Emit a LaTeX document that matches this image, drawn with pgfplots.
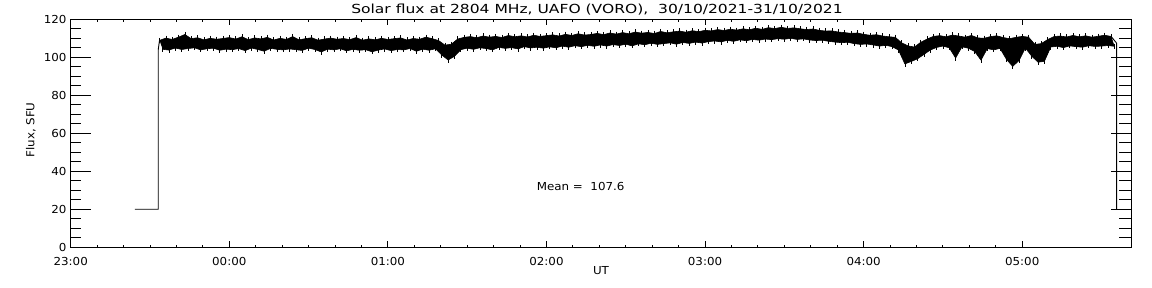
\documentclass[border=0pt]{standalone}
\usepackage{pgfplots}
\pgfplotsset{compat=1.18}
\usepackage{fontspec}
\setmainfont{DejaVu Sans}[FakeStretch=1.08]

\begin{document}
\fontsize{11}{13}\selectfont
\begin{tikzpicture}[x=1pt,y=1pt]
\useasboundingbox (0pt,0pt) rectangle (1152pt,288pt);
\begin{axis}[
    at={(70.7pt,40.7pt)}, anchor=south west,
    scale only axis, width=1060.3pt, height=228pt,
    xmin=0, xmax=6.686, ymin=0, ymax=120,
    xtick={0,1,2,3,4,5,6},
    xticklabels={23:00,00:00,01:00,02:00,03:00,04:00,05:00},
    minor x tick num=5,
    ytick={0,20,40,60,80,100,120},
    tick align=inside, tick pos=both,
    major tick length=6pt, minor tick length=2.5pt,
    axis line style={line width=0.9pt},
    tick style={black, line width=0.9pt},
    ytick style={draw=none},
    xticklabel style={anchor=base, yshift=-18pt},
    yticklabel style={anchor=east, inner sep=0pt, xshift=-4pt},
    /pgf/number format/assume math mode=true,
]
% flux band (hours after 23:00 UT, SFU): upper edge of the noise left to right, then lower edge back
\addplot[fill=black, draw=black, line width=0.6pt, line join=round,
    mark=|, mark size=2.6pt, mark options={line width=0.7pt}] coordinates {
(0.56,108.9) (0.60,110.1) (0.64,109.4) (0.68,110.6) (0.72,112.0) (0.76,109.8) (0.80,110.3) (0.84,109.2) (0.88,110.0) (0.92,109.5)
(0.96,109.9) (1.00,110.4) (1.04,109.6) (1.08,110.8) (1.12,109.3) (1.16,110.2) (1.20,109.7) (1.24,110.5) (1.28,109.1) (1.32,110.0)
(1.36,109.4) (1.40,110.9) (1.44,109.2) (1.48,109.8) (1.52,110.3) (1.56,109.0) (1.60,109.6) (1.64,110.1) (1.68,109.5) (1.72,109.9)
(1.76,109.3) (1.80,110.4) (1.84,109.0) (1.88,109.7) (1.92,109.2) (1.96,110.0) (2.00,109.4) (2.04,109.8) (2.08,110.2) (2.12,109.1)
(2.16,109.9) (2.20,109.5) (2.24,110.6) (2.28,109.8) (2.32,108.8) (2.36,106.4) (2.40,106.9) (2.44,109.6) (2.48,110.5) (2.52,110.9)
(2.56,110.3) (2.60,111.2) (2.64,110.6) (2.68,111.0) (2.72,110.4) (2.76,111.5) (2.80,110.8) (2.84,111.3) (2.88,110.7) (2.92,111.6)
(2.96,111.0) (3.00,111.4) (3.04,111.8) (3.08,111.2) (3.12,112.1) (3.16,111.5) (3.20,112.4) (3.24,111.7) (3.28,112.0) (3.32,112.6)
(3.36,111.9) (3.40,112.8) (3.44,112.2) (3.48,113.0) (3.52,112.4) (3.56,113.3) (3.60,112.7) (3.64,113.1) (3.68,112.5) (3.72,113.6)
(3.76,112.9) (3.80,113.4) (3.84,113.8) (3.88,113.2) (3.92,114.0) (3.96,113.5) (4.00,114.2) (4.04,113.9) (4.08,114.6) (4.12,114.1)
(4.16,114.8) (4.20,114.3) (4.24,115.0) (4.28,114.5) (4.32,115.3) (4.36,114.7) (4.40,115.6) (4.44,115.1) (4.48,115.8) (4.52,115.2)
(4.56,115.5) (4.60,115.0) (4.64,114.6) (4.68,114.9) (4.72,114.2) (4.76,113.8) (4.80,113.9) (4.84,113.3) (4.88,113.0) (4.92,112.6)
(4.96,112.8) (5.00,112.1) (5.04,111.6) (5.08,111.9) (5.12,111.2) (5.16,110.8) (5.20,110.5) (5.24,107.6) (5.28,106.0) (5.32,105.4)
(5.36,107.9) (5.40,109.6) (5.44,111.0) (5.48,111.4) (5.52,110.8) (5.56,111.7) (5.60,111.2) (5.64,110.6) (5.68,111.5) (5.72,110.2)
(5.76,110.0) (5.80,110.9) (5.84,111.3) (5.88,110.4) (5.92,109.8) (5.96,110.5) (6.00,111.0) (6.04,110.6) (6.08,106.8) (6.12,107.2)
(6.16,109.3) (6.20,110.9) (6.24,111.2) (6.28,110.7) (6.32,111.5) (6.36,110.8) (6.40,111.3) (6.44,110.6) (6.48,111.1) (6.52,111.6)
(6.56,111.0)
(6.58,105.8) (6.54,106.2) (6.50,105.9) (6.46,105.7) (6.42,106.1) (6.38,105.3) (6.34,105.6) (6.30,106.0) (6.26,105.1) (6.22,105.8)
(6.18,105.4) (6.14,97.9) (6.10,97.4) (6.06,100.6) (6.02,104.9) (5.98,98.3) (5.94,95.2) (5.90,99.0) (5.86,104.7) (5.82,103.9)
(5.78,104.6) (5.74,98.5) (5.70,103.1) (5.66,104.8) (5.62,105.5) (5.58,99.6) (5.54,105.0) (5.50,105.9) (5.46,105.2) (5.42,103.8)
(5.38,101.5) (5.34,99.2) (5.30,97.8) (5.26,96.5) (5.22,103.8) (5.18,105.6) (5.14,106.3) (5.10,105.9) (5.06,106.5) (5.02,107.0)
(4.98,106.8) (4.94,107.2) (4.90,107.9) (4.86,107.7) (4.82,108.0) (4.78,108.4) (4.74,109.0) (4.70,108.8) (4.66,109.1) (4.62,109.7)
(4.58,109.4) (4.54,110.0) (4.50,109.5) (4.46,109.8) (4.42,109.3) (4.38,109.6) (4.34,109.0) (4.30,109.4) (4.26,108.7) (4.22,109.2)
(4.18,108.4) (4.14,108.9) (4.10,108.1) (4.06,108.6) (4.02,108.2) (3.98,107.5) (3.94,108.0) (3.90,107.3) (3.86,107.8) (3.82,106.9)
(3.78,107.6) (3.74,107.2) (3.70,106.8) (3.66,107.4) (3.62,106.6) (3.58,107.1) (3.54,106.0) (3.50,106.9) (3.46,106.2) (3.42,106.7)
(3.38,105.9) (3.34,106.5) (3.30,105.8) (3.26,106.3) (3.22,105.6) (3.18,106.1) (3.14,105.3) (3.10,105.9) (3.06,105.0) (3.02,105.5)
(2.98,104.8) (2.94,105.3) (2.90,104.9) (2.86,105.6) (2.82,104.4) (2.78,105.1) (2.74,104.7) (2.70,105.2) (2.66,103.9) (2.62,104.6)
(2.58,105.0) (2.54,104.2) (2.50,104.8) (2.46,104.0) (2.42,100.5) (2.38,98.6) (2.34,101.2) (2.30,104.5) (2.26,103.7) (2.22,104.3)
(2.18,103.2) (2.14,104.6) (2.10,103.9) (2.06,104.1) (2.02,103.5) (1.98,104.4) (1.94,103.8) (1.90,102.9) (1.86,104.0) (1.82,103.7)
(1.78,104.2) (1.74,103.4) (1.70,104.5) (1.66,103.9) (1.62,104.3) (1.58,102.8) (1.54,104.1) (1.50,104.8) (1.46,103.6) (1.42,104.0)
(1.38,104.4) (1.34,103.9) (1.30,104.2) (1.26,104.7) (1.22,103.2) (1.18,104.1) (1.14,104.9) (1.10,103.5) (1.06,104.6) (1.02,104.0)
(0.98,104.3) (0.94,103.7) (0.90,104.8) (0.86,104.5) (0.82,103.9) (0.78,105.0) (0.74,104.6) (0.70,104.1) (0.66,104.9) (0.62,103.8)
(0.58,104.2)
};
% receiver off before start and after end
\addplot[black, line width=0.9pt] coordinates {(0.405,20) (0.552,20) (0.552,104) (0.56,108.9)};
\addplot[black, line width=0.9pt] coordinates {(6.56,111.0) (6.595,107.5) (6.595,20)};
\node[anchor=base west, inner sep=0pt] at (axis cs:2.938,29.8) {Mean =\ \ 107.6};
\end{axis}
% y ticks, long as in the IDL original (1.9pt per SFU)
\foreach \v in {20,40,...,100} {
  \draw[line width=0.9pt] (70.7pt,40.7pt+1.9pt*\v) -- ++(20pt,0pt);
  \draw[line width=0.9pt] (1131pt,40.7pt+1.9pt*\v) -- ++(-20pt,0pt);
}
\foreach \v in {5,10,15,25,30,35,45,50,55,65,70,75,85,90,95,105,110,115} {
  \draw[line width=0.9pt] (70.7pt,40.7pt+1.9pt*\v) -- ++(10pt,0pt);
  \draw[line width=0.9pt] (1131pt,40.7pt+1.9pt*\v) -- ++(-12pt,0pt);
}
\node[anchor=base, inner sep=0pt] at (597pt,274pt)
    {\fontsize{12.5}{14}\selectfont\scalebox{1.15}[1]{Solar flux at 2804 MHz, UAFO (VORO),\ \ 30/10/2021-31/10/2021}};
\node[rotate=90, anchor=base, inner sep=0pt] at (34.3pt,158pt) {Flux, SFU};
\node[anchor=base, inner sep=0pt] at (601pt,13pt) {UT};
\end{tikzpicture}
\end{document}
